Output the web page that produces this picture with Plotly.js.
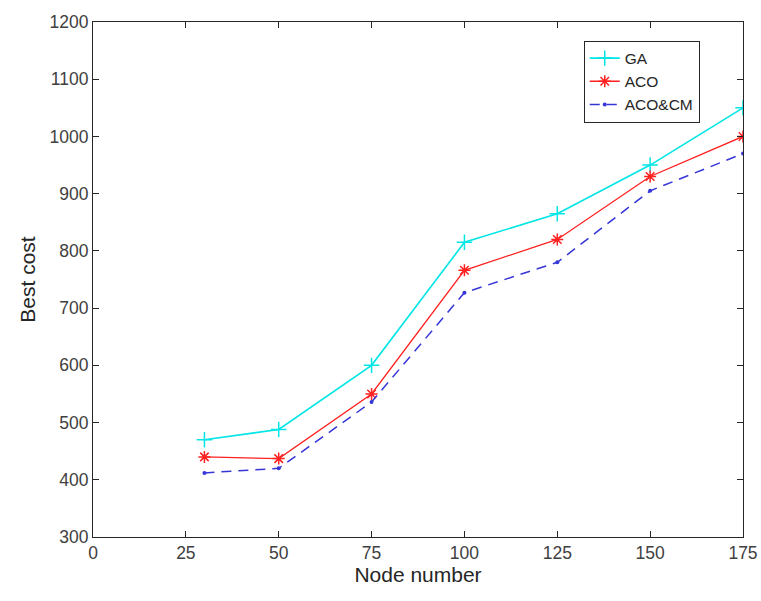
<!DOCTYPE html>
<html>
<head>
<meta charset="utf-8">
<script src="https://cdn.plot.ly/plotly-3.0.1.min.js"></script>
<style>body{margin:0;padding:0;background:#fff;} #chart{width:761px;height:601px;}</style>
</head>
<body>
<div id="chart"></div>
<script>
const nodes = [30, 50, 75, 100, 125, 150, 175];
const gaCost = [470, 488, 600, 815, 865, 950, 1050];
const acoCost = [440, 437, 550, 766, 820, 930, 1000];
const acoCmCost = [412, 420, 536, 727, 780, 905, 970];
const xTicks = [0, 25, 50, 75, 100, 125, 150, 175];
const yTicks = [300, 400, 500, 600, 700, 800, 900, 1000, 1100, 1200];

const traces = [
  {x: nodes, y: gaCost, name: 'GA', mode: 'lines+markers',
   line: {color: '#00e5e5', width: 1.6},
   marker: {symbol: 'cross-thin', size: 11, line: {color: '#00e5e5', width: 1.5}}},
  {x: nodes, y: acoCost, name: 'ACO', mode: 'lines+markers',
   line: {color: '#ff2020', width: 1.3},
   marker: {symbol: 'asterisk-open', size: 10, line: {color: '#ff2020', width: 1.5}}},
  {x: nodes, y: acoCmCost, name: 'ACO&CM', mode: 'lines+markers',
   line: {color: '#3535d8', width: 1.5, dash: '10px,7px'},
   marker: {symbol: 'circle', size: 4, color: '#3535d8'}}
];

const fontFam = 'Liberation Sans, Arial, sans-serif';
const axisCommon = {
  showgrid: false, zeroline: false, showline: true, mirror: 'ticks',
  linecolor: '#262626', linewidth: 1, ticks: 'inside', ticklen: 6,
  tickcolor: '#262626', ticklabeloverflow: 'allow', automargin: false,
  tickfont: {family: fontFam, size: 17.5, color: '#404040'}
};

const layout = {
  width: 761, height: 601,
  margin: {l: 93, r: 18, t: 22, b: 64},
  paper_bgcolor: '#fff', plot_bgcolor: '#fff',
  showlegend: true,
  legend: {x: 0.755, y: 0.964, xanchor: 'left', yanchor: 'top',
    bordercolor: '#262626', borderwidth: 1, bgcolor: '#fff',
    font: {family: fontFam, size: 15.5, color: '#262626'},
    itemwidth: 30, tracegroupgap: 0},
  xaxis: Object.assign({}, axisCommon, {range: [0, 175], tickvals: xTicks,
    title: {text: 'Node number', font: {family: fontFam, size: 21, color: '#262626'}, standoff: 4}}),
  yaxis: Object.assign({}, axisCommon, {range: [300, 1200], tickvals: yTicks,
    title: {text: 'Best cost', font: {family: fontFam, size: 21, color: '#262626'}, standoff: 8}})
};

Plotly.newPlot('chart', traces, layout, {displayModeBar: false, staticPlot: true});
</script>
</body>
</html>
